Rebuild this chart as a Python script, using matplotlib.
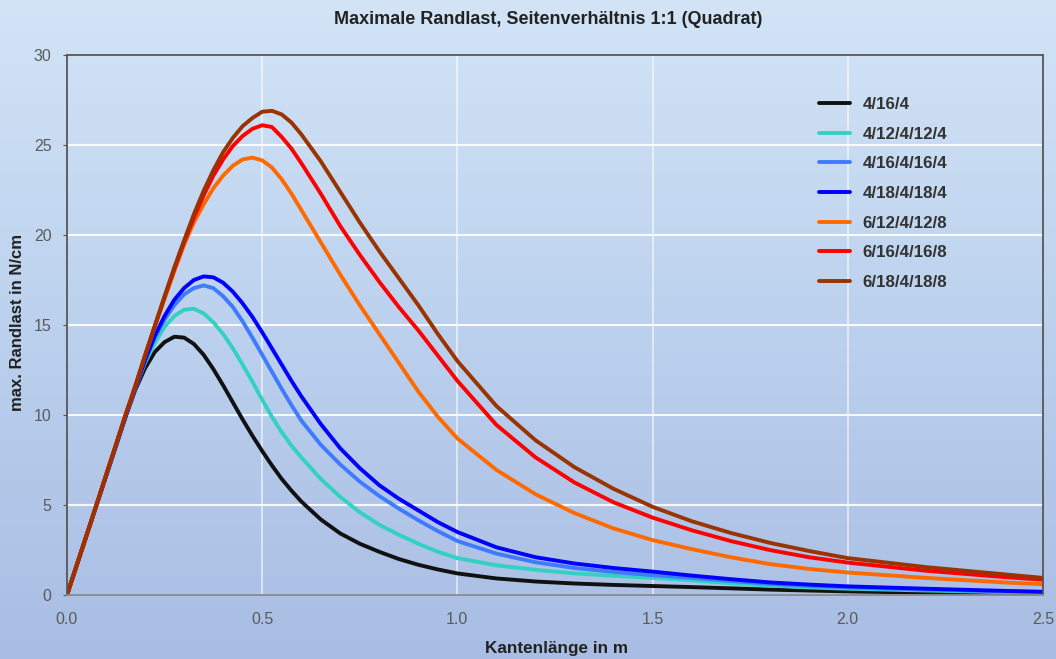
import numpy as np
import matplotlib
matplotlib.use("Agg")
import matplotlib.pyplot as plt
from matplotlib.colors import LinearSegmentedColormap

plt.rcParams['font.family'] = ['Liberation Sans', 'DejaVu Sans']

# Kantenlänge in m
x = [0.0, 0.05, 0.1, 0.15, 0.175, 0.2, 0.225, 0.25, 0.275, 0.3, 0.325, 0.35, 0.375, 0.4,
     0.425, 0.45, 0.475, 0.5, 0.525, 0.55, 0.575, 0.6, 0.65, 0.7, 0.75, 0.8, 0.85, 0.9,
     0.95, 1.0, 1.1, 1.2, 1.3, 1.4, 1.5, 1.6, 1.7, 1.8, 1.9, 2.0, 2.2, 2.4, 2.5]

# max. Randlast in N/cm
y_4_16_4 = [0, 3.3, 6.6, 9.9, 11.4, 12.6, 13.5, 14.05, 14.35, 14.3, 13.95, 13.35, 12.55, 11.65,
            10.7, 9.75, 8.85, 8.0, 7.2, 6.45, 5.8, 5.2, 4.2, 3.42, 2.85, 2.4, 2.0, 1.68,
            1.42, 1.2, 0.92, 0.75, 0.64, 0.56, 0.5, 0.44, 0.37, 0.3, 0.25, 0.2, 0.13, 0.08, 0.06]
y_4_12_4_12_4 = [0, 3.3, 6.6, 9.9, 11.5, 12.9, 14.0, 14.9, 15.5, 15.85, 15.9, 15.65, 15.15, 14.5,
                 13.7, 12.8, 11.85, 10.85, 9.9, 9.05, 8.3, 7.65, 6.45, 5.45, 4.6, 3.9, 3.35, 2.85,
                 2.4, 2.05, 1.65, 1.4, 1.2, 1.07, 0.95, 0.82, 0.65, 0.52, 0.42, 0.35, 0.25, 0.16, 0.12]
y_4_16_4_16_4 = [0, 3.3, 6.6, 9.9, 11.5, 13.0, 14.3, 15.3, 16.1, 16.7, 17.05, 17.2, 17.05, 16.6,
                 16.0, 15.2, 14.3, 13.35, 12.4, 11.45, 10.55, 9.7, 8.35, 7.25, 6.3, 5.5, 4.8, 4.15,
                 3.55, 3.0, 2.3, 1.82, 1.5, 1.28, 1.1, 0.95, 0.78, 0.62, 0.5, 0.42, 0.3, 0.2, 0.16]
y_4_18_4_18_4 = [0, 3.3, 6.6, 9.9, 11.5, 13.05, 14.4, 15.5, 16.4, 17.05, 17.5, 17.7, 17.65, 17.35,
                 16.85, 16.2, 15.45, 14.6, 13.7, 12.8, 11.9, 11.05, 9.5, 8.15, 7.05, 6.1, 5.35, 4.7,
                 4.05, 3.5, 2.65, 2.1, 1.75, 1.5, 1.3, 1.08, 0.88, 0.7, 0.58, 0.48, 0.35, 0.23, 0.18]
y_6_12_4_12_8 = [0, 3.3, 6.65, 10.0, 11.6, 13.3, 14.9, 16.45, 18.0, 19.45, 20.7, 21.7, 22.6, 23.3,
                 23.85, 24.2, 24.3, 24.15, 23.75, 23.1, 22.3, 21.4, 19.6, 17.8, 16.1, 14.5, 12.9, 11.3,
                 9.9, 8.7, 6.95, 5.6, 4.55, 3.7, 3.05, 2.55, 2.1, 1.72, 1.45, 1.25, 0.95, 0.7, 0.6]
y_6_16_4_16_8 = [0, 3.3, 6.65, 10.0, 11.6, 13.3, 14.95, 16.55, 18.1, 19.6, 20.95, 22.2, 23.3, 24.2,
                 24.95, 25.5, 25.9, 26.1, 26.0, 25.45, 24.8, 24.0, 22.3, 20.5, 18.9, 17.4, 16.0, 14.7,
                 13.3, 11.9, 9.45, 7.65, 6.25, 5.15, 4.3, 3.6, 3.0, 2.5, 2.1, 1.8, 1.35, 1.0, 0.85]
y_6_18_4_18_8 = [0, 3.3, 6.65, 10.0, 11.6, 13.3, 14.95, 16.6, 18.2, 19.7, 21.15, 22.45, 23.6, 24.6,
                 25.4, 26.05, 26.5, 26.85, 26.9, 26.7, 26.25, 25.6, 24.1, 22.4, 20.7, 19.1, 17.6, 16.1,
                 14.5, 13.0, 10.5, 8.6, 7.1, 5.9, 4.9, 4.1, 3.45, 2.9, 2.45, 2.05, 1.55, 1.15, 0.95]

labels = ['4/16/4', '4/12/4/12/4', '4/16/4/16/4', '4/18/4/18/4',
          '6/12/4/12/8', '6/16/4/16/8', '6/18/4/18/8']
series = [y_4_16_4, y_4_12_4_12_4, y_4_16_4_16_4, y_4_18_4_18_4,
          y_6_12_4_12_8, y_6_16_4_16_8, y_6_18_4_18_8]
colors = ['#111111', '#33d1c4', '#3f7bff', '#0000ff', '#ff6a00', '#ff0000', '#993300']

xticks = [0.0, 0.5, 1.0, 1.5, 2.0, 2.5]
yticks = [0, 5, 10, 15, 20, 25, 30]

fig = plt.figure(figsize=(10.56, 6.59), dpi=100)

# background gradient over the whole figure
bg = fig.add_axes([0, 0, 1, 1], zorder=-1)
cmap = LinearSegmentedColormap.from_list('bg', ['#d2e4f6', '#bcd1ee', '#a8bde3'])
bg.imshow(np.linspace(0, 1, 256).reshape(-1, 1), aspect='auto', cmap=cmap,
          extent=[0, 1, 0, 1])
bg.axis('off')

ax = fig.add_axes([0.0634, 0.0971, 0.9243, 0.8194])
ax.set_facecolor('none')

for ys, lab, col in zip(series, labels, colors):
    ax.plot(x, ys, color=col, lw=2.8, label=lab, solid_joinstyle='round',
            solid_capstyle='round')

ax.set_xlim(0, 2.5)
ax.set_ylim(0, 30)
ax.set_xticks(xticks)
ax.set_xticklabels(['%.1f' % t for t in xticks])
ax.set_yticks(yticks)
ax.yaxis.grid(True, color='white', lw=1.5, alpha=0.9)
ax.xaxis.grid(True, color='white', lw=1.2, alpha=0.65)
ax.set_axisbelow(True)

for side in ['left', 'top', 'right']:
    ax.spines[side].set_color('#555555')
    ax.spines[side].set_linewidth(1.3)
ax.spines['bottom'].set_color('#888888')
ax.spines['bottom'].set_linewidth(1.3)

ax.tick_params(axis='x', length=0, pad=12, labelsize=11.5, labelcolor='#5a5a5a')
ax.tick_params(axis='y', length=3, color='#555555', pad=8, labelsize=11.5,
               labelcolor='#5a5a5a')

fig.text(0.519, 0.971, 'Maximale Randlast, Seitenverhältnis 1:1 (Quadrat)',
         ha='center', va='center', fontsize=13, fontweight='bold', color='#222222')
fig.text(0.527, 0.016, 'Kantenlänge in m', ha='center', va='center',
         fontsize=12.3, fontweight='bold', color='#222222')
fig.text(0.017, 0.51, 'max. Randlast in N/cm', ha='center', va='center',
         rotation=90, fontsize=12, fontweight='bold', color='#222222')

leg = ax.legend(loc='upper left', bbox_to_anchor=(0.755, 0.95), frameon=False,
                fontsize=12.2, handlelength=1.85, handletextpad=0.7, labelspacing=0.86)
for t in leg.get_texts():
    t.set_fontweight('bold')
    t.set_color('#333333')

fig.savefig('out.png', dpi=100)
